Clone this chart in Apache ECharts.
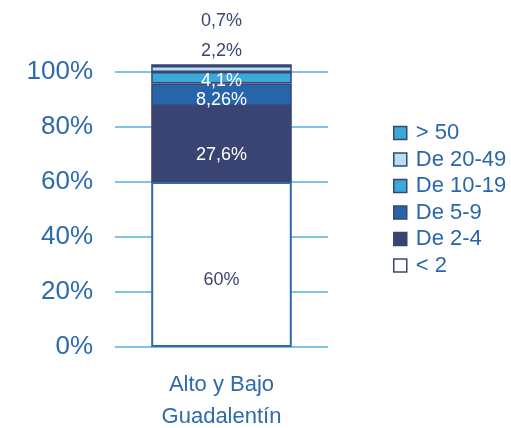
<!DOCTYPE html>
<html>
<head>
<meta charset="utf-8">
<style>
  html, body { margin: 0; padding: 0; background: #ffffff; }
  #chart { width: 511px; height: 428px; }
</style>
<script src="https://cdn.jsdelivr.net/npm/echarts@6/dist/echarts.min.js"></script>
</head>
<body>
<div id="chart"></div>
<script>
// Farm size distribution (share of holdings by size class)
const categories = ['Alto y Bajo\nGuadalentín'];
const sizeClasses = ['< 2', 'De 2-4', 'De 5-9', 'De 10-19', 'De 20-49', '> 50'];
const shares = [[60], [27.6], [8.26], [4.1], [2.2], [0.7]];
const yTicks = [0, 20, 40, 60, 80, 100];

const fills = ['#ffffff', '#3a4472', '#2764aa', '#3aa9da', '#b7def1', '#3aa9da'];
const borders = ['#2e6aad', '#3b4573', '#3b4573', '#3b4573', '#3b4573', '#3b4573'];
const labelColors = ['#3b4573', '#ffffff', '#ffffff', '#ffffff', '#3b4573', '#3b4573'];
const labelPos = ['inside', 'inside', 'inside', 'inside', 'top', 'top'];
const labelOffset = [[0, 16], [0, 11], [0, 5], [0, 3], [0, -1], [0, -29]];

const fmt = v => String(v).replace('.', ',') + '%';

const series = sizeClasses.map((name, i) => ({
  name: name,
  type: 'bar',
  stack: 'total',
  barWidth: '66%',
  clip: false,
  data: shares[i],
  itemStyle: { color: fills[i], borderColor: borders[i], borderWidth: i === 0 ? 2 : 1.5 },
  label: {
    show: true,
    position: labelPos[i],
    offset: labelOffset[i],
    color: labelColors[i],
    fontSize: 18,
    fontFamily: 'Liberation Sans, Arial, sans-serif',
    formatter: p => fmt(p.value)
  }
}));

const chart = echarts.init(document.getElementById('chart'), null, { renderer: 'canvas' });
chart.setOption({
  animation: false,
  textStyle: { fontFamily: 'Liberation Sans, Arial, sans-serif' },
  grid: { left: 115, right: 183, top: 72, bottom: 81, containLabel: false, outerBoundsMode: 'none' },
  legend: {
    orient: 'vertical',
    left: 388,
    top: 117,
    itemWidth: 13,
    itemHeight: 13,
    itemGap: 4.5,
    icon: 'rect',
    data: sizeClasses.slice().reverse(),
    textStyle: { color: '#2a66ad', fontSize: 22, padding: [0, 0, 0, 4] },
    itemStyle: { borderColor: '#3b4573', borderWidth: 1.5 }
  },
  xAxis: {
    type: 'category',
    data: categories,
    axisLine: { show: false },
    axisTick: { show: false },
    axisLabel: { color: '#2e6aad', fontSize: 22, lineHeight: 32, margin: 22 }
  },
  yAxis: {
    type: 'value',
    min: yTicks[0],
    max: yTicks[yTicks.length - 1],
    interval: 20,
    axisLine: { show: false },
    axisTick: { show: false },
    splitLine: { lineStyle: { color: '#80c4e4', width: 2 } },
    axisLabel: { color: '#2e6aad', fontSize: 26, margin: 22, formatter: v => v + '%' }
  },
  series: series
});
</script>
</body>
</html>
